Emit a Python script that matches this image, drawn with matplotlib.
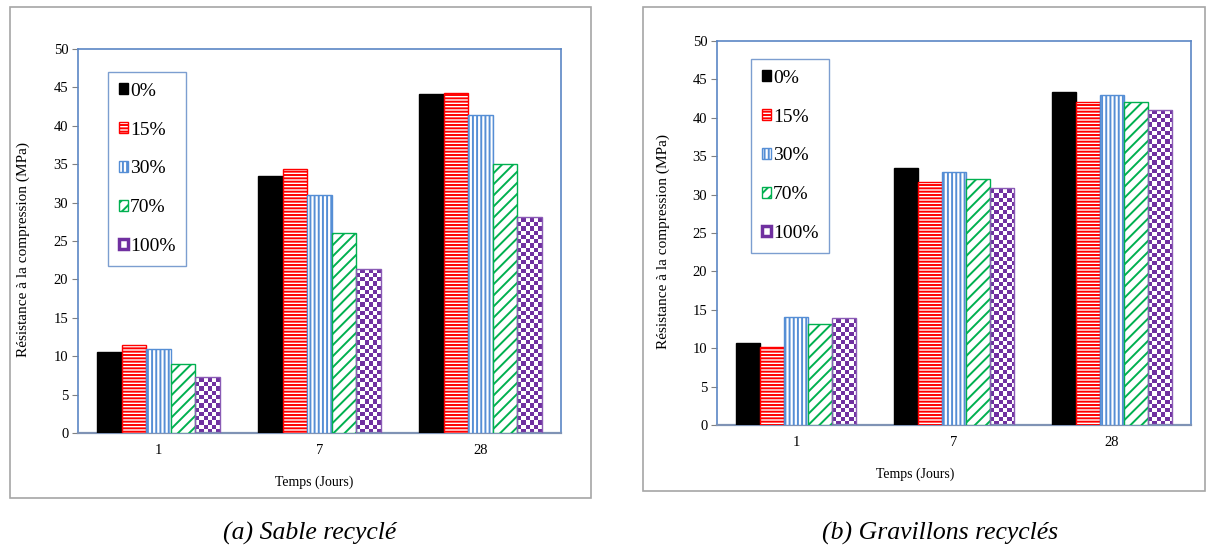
import numpy as np
import matplotlib
matplotlib.use("Agg")
import matplotlib.pyplot as plt
from matplotlib.patches import Rectangle, Patch
from matplotlib.colors import ListedColormap

# data
days = ["1", "7", "28"]
series = ["0%", "15%", "30%", "70%", "100%"]
sable = [
    [10.6, 33.5, 44.2],   # 0%
    [11.4, 34.4, 44.3],   # 15%
    [10.9, 31.0, 41.4],   # 30%
    [9.0, 26.0, 35.0],    # 70%
    [7.3, 21.3, 28.1],    # 100%
]
gravillons = [
    [10.7, 33.4, 43.4],
    [10.1, 31.6, 42.0],
    [14.1, 32.9, 43.0],
    [13.1, 32.0, 42.0],
    [13.9, 30.9, 41.0],
]
captions = ["(a) Sable recyclé", "(b) Gravillons recyclés"]

plt.rcParams['font.family'] = ['Liberation Serif', 'DejaVu Serif']
plt.rcParams['hatch.linewidth'] = 1.4

W, H = 1214, 548
fig = plt.figure(figsize=(W / 100, H / 100), dpi=100)

purple = '#7030a0'
styles = [
    dict(facecolor='black', edgecolor='black', hatch=None),
    dict(facecolor='white', edgecolor='#ff0000', hatch='-----'),
    dict(facecolor='white', edgecolor='#558ed5', hatch='||||'),
    dict(facecolor='white', edgecolor='#00b050', hatch='///'),
    dict(facecolor='none', edgecolor='#8a5bb5', hatch=None),
]
spine_col = '#5b86c5'
checker_cmap = ListedColormap(['white', purple])


def fpos(x0, y0, x1, y1):
    return [x0 / W, 1 - y1 / H, (x1 - x0) / W, (y1 - y0) / H]


def draw_panel(rect, values, legend_xy, xlabel_x, caption, cap_xy, frame):
    # outer grey frame
    fx0, fy0, fx1, fy1 = frame
    fig.add_artist(Rectangle((fx0 / W, 1 - fy1 / H), (fx1 - fx0) / W, (fy1 - fy0) / H,
                             transform=fig.transFigure, fill=False,
                             edgecolor='#a6a6a6', linewidth=1.2))
    ax = fig.add_axes(rect)
    x = np.arange(len(days))
    bw = 0.153
    handles = []
    for i, (vals, st) in enumerate(zip(values, styles)):
        bars = ax.bar(x + (i - 2) * bw, vals, bw, linewidth=1.0, zorder=3, **st)
        handles.append(bars)
    ax.set_xlim(-0.5, 2.5)
    ax.set_ylim(0, 50)

    # checkerboard fill for the 100% series
    fig.canvas.draw()
    px_x = ax.transData.transform((1, 0))[0] - ax.transData.transform((0, 0))[0]
    px_y = ax.transData.transform((0, 1))[1] - ax.transData.transform((0, 0))[1]
    cell = 4.2
    for b in handles[4]:
        x0, y0 = b.get_x(), b.get_y()
        w, h = b.get_width(), b.get_height()
        nx = max(1, int(round(w * px_x / cell)))
        ny = max(1, int(round(h * px_y / cell)))
        arr = (np.add.outer(np.arange(ny), np.arange(nx)) % 2)
        im = ax.imshow(arr, cmap=checker_cmap, extent=(x0, x0 + nx * cell / px_x, y0, y0 + ny * cell / px_y),
                       origin='lower', aspect='auto', interpolation='nearest', zorder=2)
        im.set_clip_path(b)
    ax.set_xlim(-0.5, 2.5)
    ax.set_ylim(0, 50)

    ax.set_xticks(x)
    ax.set_xticklabels(days)
    ax.set_yticks(np.arange(0, 51, 5))
    ax.tick_params(axis='x', length=0, pad=8, labelsize=10.5)
    ax.tick_params(axis='y', length=4, width=0.8, color='#808080', pad=3, labelsize=10.5)
    for s in ['left', 'top', 'right']:
        ax.spines[s].set_color(spine_col)
        ax.spines[s].set_linewidth(1.2)
    ax.spines['bottom'].set_color('#7f93b5')
    ax.spines['bottom'].set_linewidth(1.6)

    ax.set_xlabel("Temps (Jours)", fontsize=10)
    ax.xaxis.set_label_coords(xlabel_x, -0.112)
    ax.set_ylabel("Résistance à la compression (MPa)", fontsize=11)
    ax.yaxis.set_label_coords(-0.1, 0.477)

    leg_handles = handles[:4] + [Patch(facecolor='white', edgecolor=purple, hatch=None, linewidth=2.5)]
    leg = ax.legend(leg_handles, series, loc='upper left', bbox_to_anchor=legend_xy,
                    fontsize=14, frameon=True, fancybox=False, edgecolor=spine_col,
                    handlelength=0.48, handleheight=0.48, handletextpad=0.1,
                    labelspacing=1.12, borderpad=0.55, borderaxespad=0)
    leg.get_frame().set_linewidth(1.0)
    leg.set_zorder(5)

    fig.text(cap_xy[0] / W, 1 - cap_xy[1] / H, caption, fontsize=18.5, style='italic',
             ha='center', va='center')
    return ax


draw_panel(fpos(78, 49, 561, 433), sable, (0.062, 0.94), 0.49,
           captions[0], (310, 533), (10, 7, 591, 498))
draw_panel(fpos(717, 41, 1191, 425), gravillons, (0.072, 0.953), 0.418,
           captions[1], (940, 533), (643, 7, 1205, 491))

fig.savefig("out.png", dpi=100)
